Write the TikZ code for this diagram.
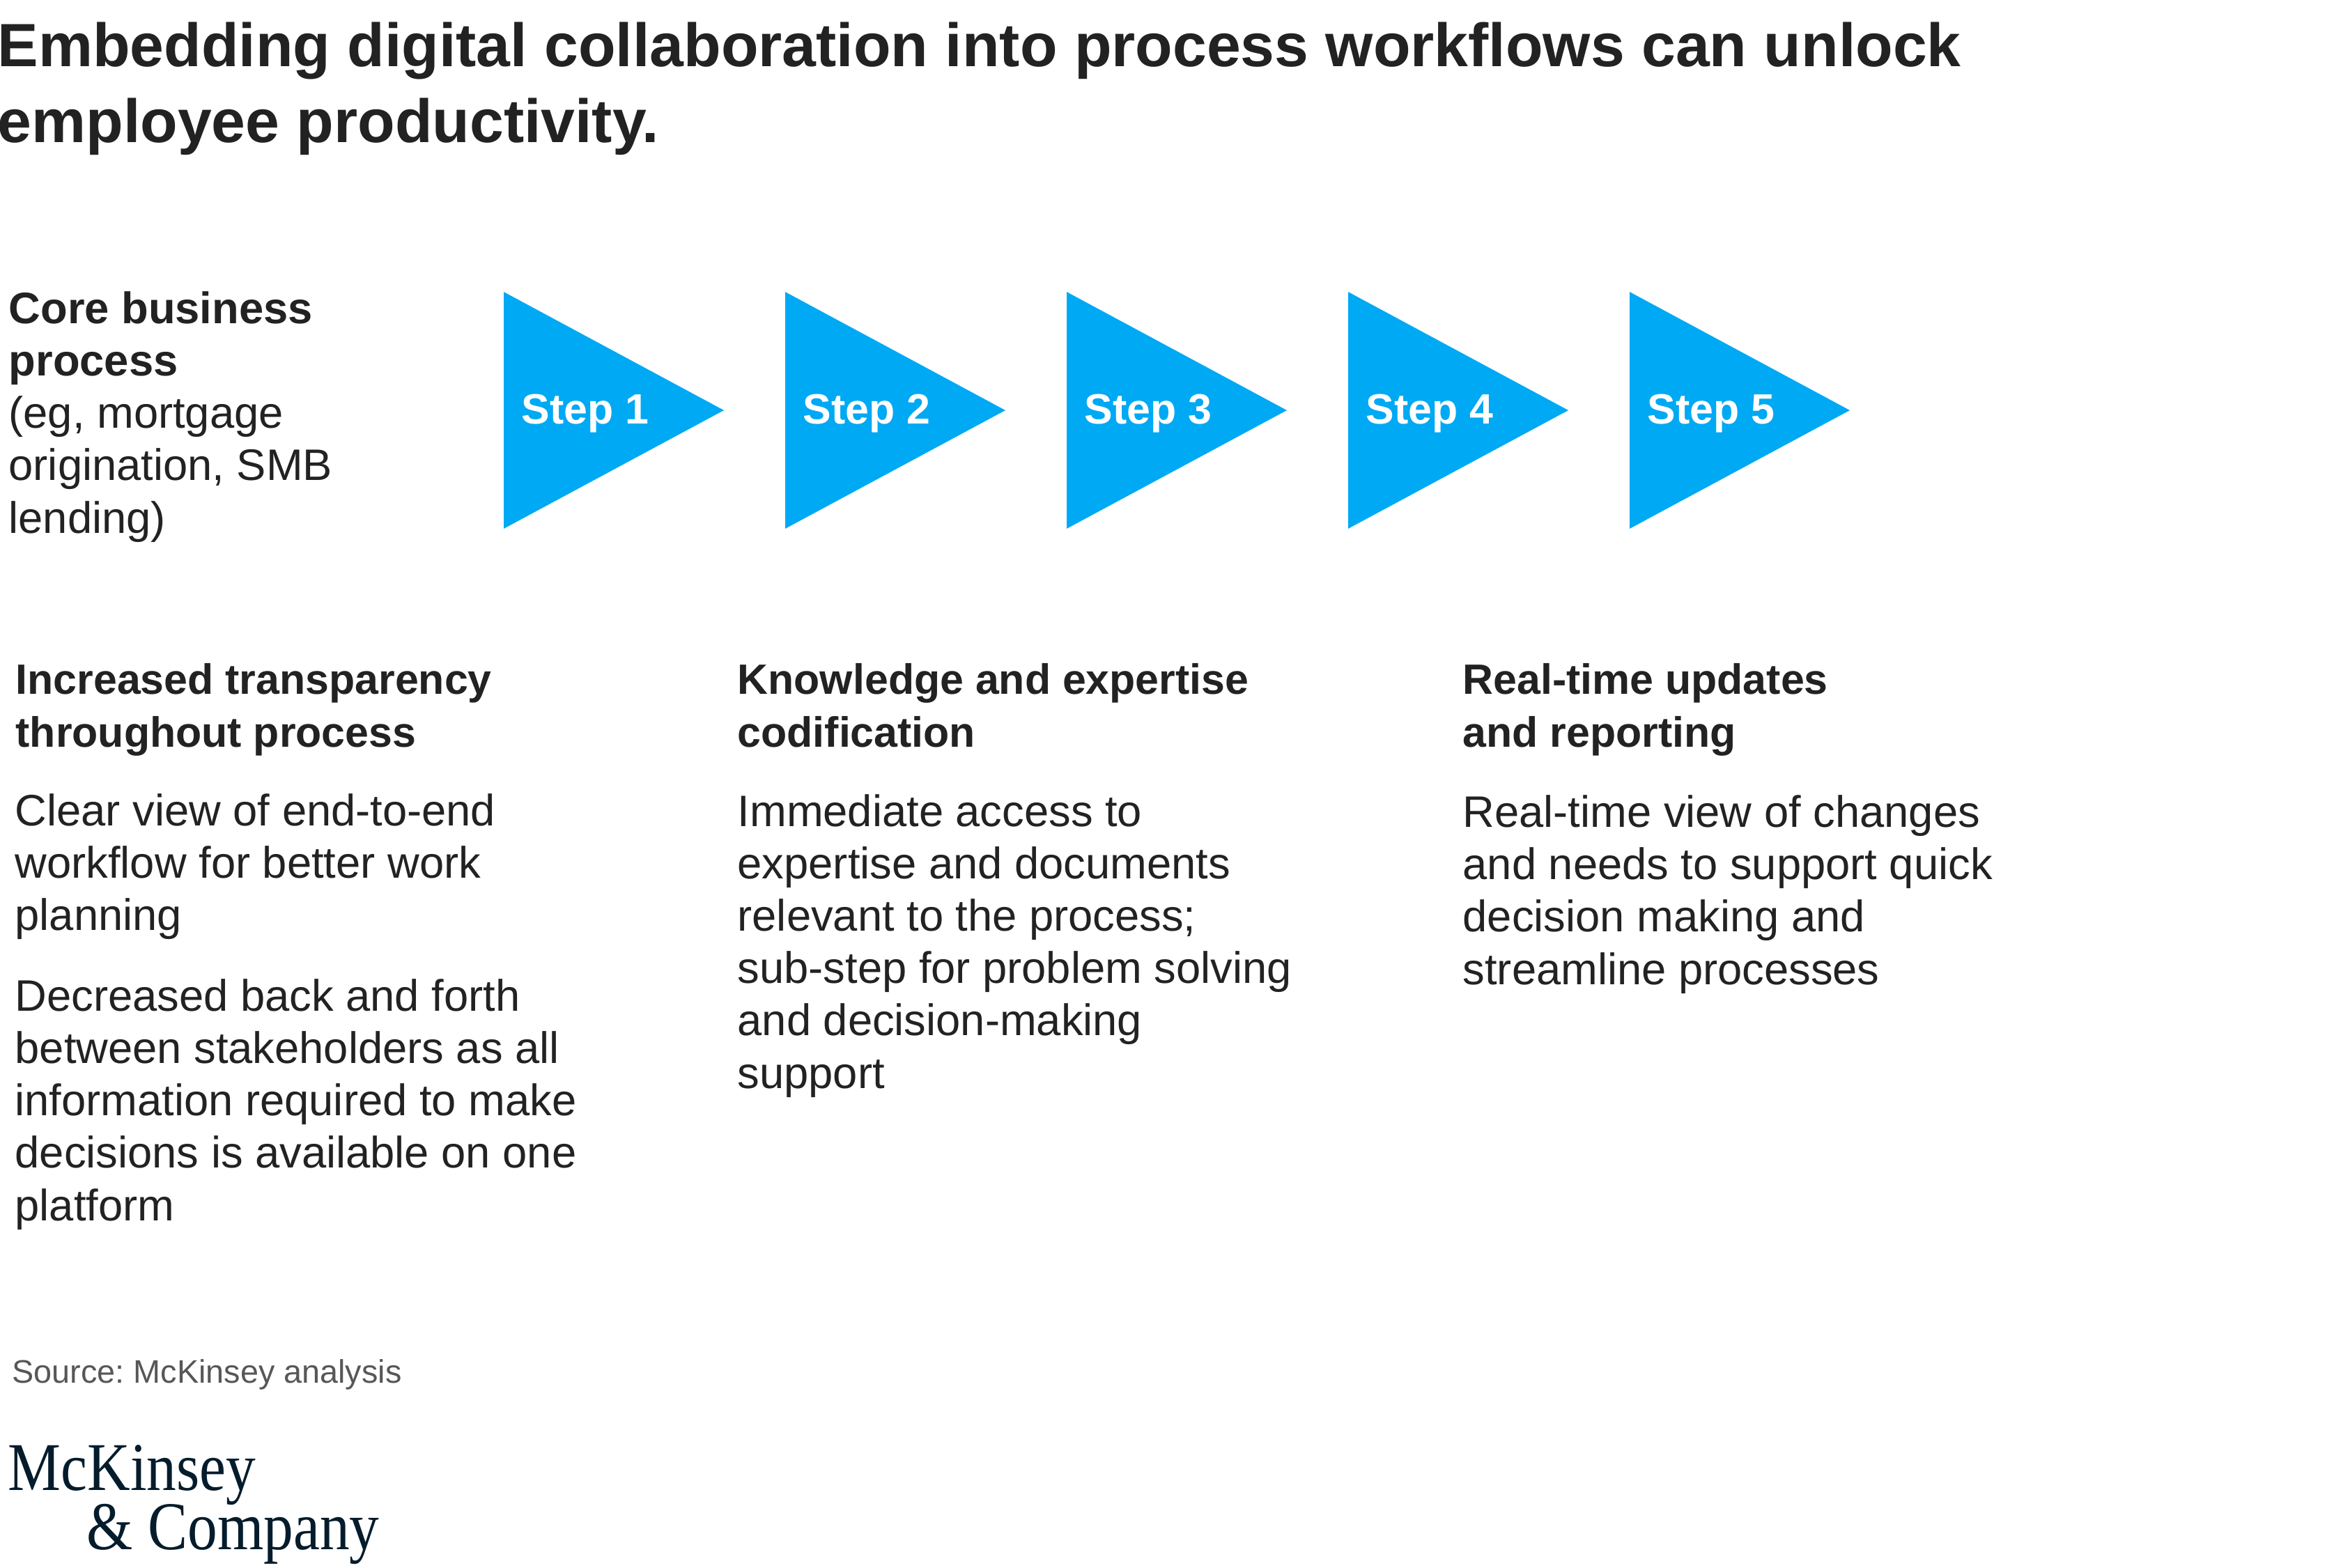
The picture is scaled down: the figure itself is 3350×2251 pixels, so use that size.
\documentclass[tikz,border=0pt]{standalone}
\usepackage{fontspec}
\setmainfont{Liberation Sans}
\newfontfamily\logofont[FakeStretch=0.87]{Liberation Serif}
\usepackage{tikz}
\frenchspacing

\definecolor{stepblue}{HTML}{00A9F4}
\definecolor{inkgray}{HTML}{222222}
\definecolor{notegray}{HTML}{575757}
\definecolor{logonavy}{HTML}{051C2C}

\tikzset{
  steptri/.style={fill=stepblue},
  steplabel/.style={anchor=base west, inner sep=0pt, text=white,
    font=\fontsize{17.3}{21}\selectfont\bfseries},
  headtext/.style={anchor=base west, inner sep=0pt, align=left, text=inkgray,
    font=\fontsize{17.3}{21.6}\selectfont\bfseries},
  bodytext/.style={anchor=base west, inner sep=0pt, align=left, text=inkgray,
    font=\fontsize{18}{21.34}\selectfont},
}

\begin{document}
\begin{tikzpicture}[x=0.01cm, y=-0.01cm]
      \useasboundingbox (0,0) rectangle (3350,2251);

      % title (anchored on its last line)
      \node[anchor=base west, inner sep=0pt, align=left, text=inkgray,
            font=\fontsize{24.95}{30.9}\selectfont\bfseries] (title) at (-4,204)
            {Embedding digital collaboration into process workflows can unlock\\employee productivity.};

      % process row
      \node[bodytext] (core) at (12,765)
            {{\bfseries Core business}\\{\bfseries process}\\(eg, mortgage\\origination, SMB\\lending)};

      \fill[steptri] (723,419) -- (1039,589) -- (723,759) -- cycle;
      \fill[steptri] (1127,419) -- (1443,589) -- (1127,759) -- cycle;
      \fill[steptri] (1531,419) -- (1847,589) -- (1531,759) -- cycle;
      \fill[steptri] (1935,419) -- (2251,589) -- (1935,759) -- cycle;
      \fill[steptri] (2339,419) -- (2655,589) -- (2339,759) -- cycle;

      \node[steplabel] (s1) at (748,608) {Step 1};
      \node[steplabel] (s2) at (1152,608) {Step 2};
      \node[steplabel] (s3) at (1556,608) {Step 3};
      \node[steplabel] (s4) at (1960,608) {Step 4};
      \node[steplabel] (s5) at (2364,608) {Step 5};

      % benefits
      \node[headtext] (h1) at (22,1072) {Increased transparency\\throughout process};
      \node[bodytext] (b1) at (21,1752)
            {Clear view of end-to-end\\workflow for better work\\planning\\[11.7pt]Decreased back and forth\\between stakeholders as all\\information required to make\\decisions is available on one\\platform};

      \node[headtext] (h2) at (1058,1072) {Knowledge and expertise\\codification};
      \node[bodytext] (b2) at (1058,1562)
            {Immediate access to\\expertise and documents\\relevant to the process;\\sub-step for problem solving\\and decision-making\\support};

      \node[headtext] (h3) at (2099,1072) {Real-time updates\\and reporting};
      \node[bodytext] (b3) at (2099,1413)
            {Real-time view of changes\\and needs to support quick\\decision making and\\streamline processes};

      % footer
      \node[anchor=base west, inner sep=0pt, text=notegray,
            font=\fontsize{13.3}{16}\selectfont] (source) at (17,1985) {Source: McKinsey analysis};
      \node[anchor=base west, inner sep=0pt, text=logonavy,
            font=\fontsize{27.9}{30}\logofont] (logo1) at (11,2139) {McKinsey};
      \node[anchor=base west, inner sep=0pt, text=logonavy,
            font=\fontsize{27.9}{30}\logofont] (logo2) at (124,2224) {\& Company};
\end{tikzpicture}
\end{document}
